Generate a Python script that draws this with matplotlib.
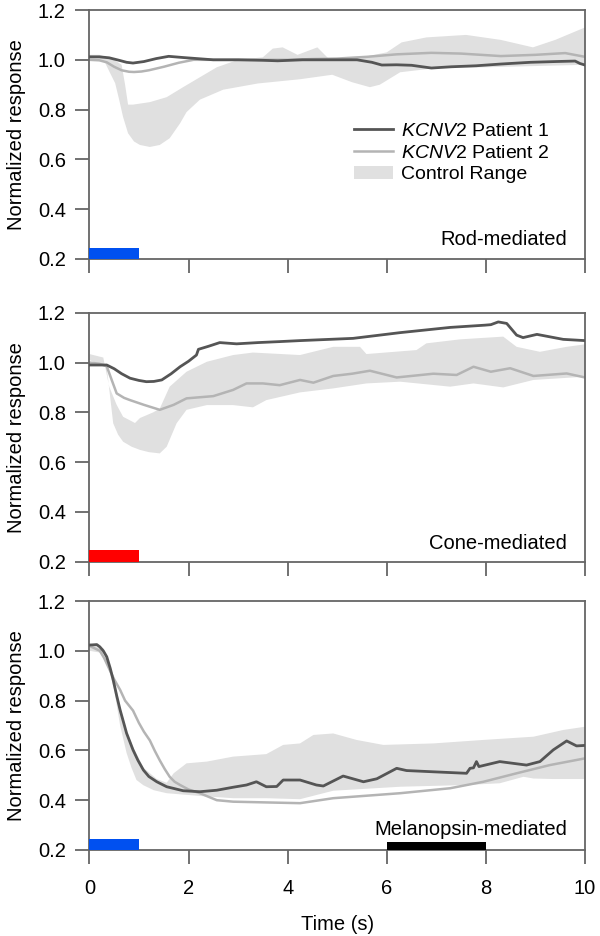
import numpy as np
import matplotlib
matplotlib.use('Agg')
import matplotlib.pyplot as plt
from matplotlib.lines import Line2D
from matplotlib.patches import Patch

plt.rcParams['font.family'] = ['Liberation Sans', 'DejaVu Sans']
plt.rcParams['mathtext.fontset'] = 'custom'
plt.rcParams['mathtext.it'] = 'Liberation Sans:italic'
plt.rcParams['mathtext.rm'] = 'Liberation Sans'

# ---- Rod-mediated ----
rod_p1_t = [0, 0.2, 0.4, 0.6, 0.75, 0.88, 1.1, 1.35, 1.6, 1.9, 2.1, 2.5, 3.0, 3.5, 3.8, 4.3,
            4.8, 5.4, 5.7, 5.9, 6.2, 6.5, 6.9, 7.3, 7.8, 8.3, 8.9, 9.4, 9.8, 9.9, 10]
rod_p1 = [1.012, 1.012, 1.008, 0.998, 0.99, 0.987, 0.993, 1.005, 1.014, 1.009, 1.006, 1.0, 1.0,
          0.998, 0.996, 1.0, 1.0, 1.0, 0.99, 0.979, 0.98, 0.978, 0.967, 0.972, 0.976, 0.983,
          0.99, 0.993, 0.995, 0.985, 0.979]
rod_p2_t = [0, 0.2, 0.35, 0.5, 0.65, 0.8, 0.9, 1.05, 1.2, 1.5, 1.8, 2.1, 3.0, 4.0, 4.5, 5.0,
            5.6, 6.2, 6.9, 7.5, 8.3, 9.0, 9.6, 10]
rod_p2 = [1.0, 0.998, 0.99, 0.972, 0.958, 0.952, 0.951, 0.953, 0.958, 0.972, 0.988, 1.0, 1.0,
          1.0, 1.003, 1.005, 1.012, 1.022, 1.028, 1.025, 1.015, 1.02, 1.027, 1.012]
rod_up_t = [0, 0.2, 0.35, 0.5, 0.65, 0.72, 0.78, 0.88, 1.22, 1.56, 1.89, 2.23, 2.57, 3.0, 3.5,
            3.7, 3.9, 4.2, 4.6, 4.85, 5.5, 6.0, 6.3, 6.8, 7.6, 8.3, 8.95, 9.4, 10]
rod_up = [1.02, 1.02, 1.01, 1.0, 0.98, 0.9, 0.82, 0.82, 0.83, 0.85, 0.89, 0.93, 0.97, 1.0, 1.01,
          1.045, 1.05, 1.02, 1.05, 1.0, 1.01, 1.03, 1.07, 1.09, 1.1, 1.08, 1.05, 1.08, 1.13]
rod_lo_t = [0, 0.3, 0.41, 0.52, 0.6, 0.68, 0.78, 0.9, 1.02, 1.22, 1.42, 1.62, 1.83, 1.96, 2.23,
            2.7, 3.4, 4.25, 4.9, 5.3, 5.66, 5.86, 6.27, 7.0, 8.0, 9.0, 10]
rod_lo = [1.0, 0.995, 0.95, 0.906, 0.84, 0.77, 0.705, 0.672, 0.658, 0.65, 0.658, 0.685, 0.745,
          0.79, 0.84, 0.88, 0.905, 0.922, 0.94, 0.91, 0.89, 0.9, 0.95, 0.967, 0.97, 0.975, 0.98]

# ---- Cone-mediated ----
cone_p1_t = [0, 0.2, 0.35, 0.5, 0.65, 0.82, 1.0, 1.15, 1.3, 1.46, 1.65, 1.83, 2.0, 2.16, 2.2,
             2.4, 2.63, 2.97, 3.4, 3.84, 4.25, 5.32, 6.27, 7.28, 7.98, 8.1, 8.25, 8.42, 8.62,
             8.75, 9.03, 9.56, 10]
cone_p1 = [0.99, 0.99, 0.99, 0.975, 0.955, 0.937, 0.928, 0.923, 0.924, 0.93, 0.955, 0.983,
           1.005, 1.03, 1.053, 1.065, 1.08, 1.075, 1.08, 1.084, 1.088, 1.097, 1.12, 1.141, 1.15,
           1.152, 1.163, 1.157, 1.11, 1.10, 1.113, 1.093, 1.088]
cone_p2_t = [0, 0.2, 0.35, 0.45, 0.55, 0.7, 0.82, 1.1, 1.42, 1.7, 1.96, 2.5, 2.9, 3.17, 3.5,
             3.84, 4.25, 4.52, 4.92, 5.3, 5.66, 6.2, 6.94, 7.41, 7.75, 8.1, 8.49, 8.96, 9.63, 10]
cone_p2 = [1.0, 0.995, 0.985, 0.93, 0.876, 0.858, 0.849, 0.83, 0.81, 0.83, 0.856, 0.865, 0.89,
           0.916, 0.916, 0.909, 0.93, 0.919, 0.946, 0.955, 0.967, 0.94, 0.955, 0.95, 0.983,
           0.963, 0.977, 0.946, 0.956, 0.94]
cone_up_t = [0, 0.28, 0.4, 0.55, 0.68, 0.92, 1.02, 1.29, 1.42, 1.62, 1.96, 2.37, 2.9, 3.3,
             4.25, 4.92, 5.46, 5.59, 6.6, 6.8, 7.48, 8.35, 8.62, 9.09, 9.63, 10]
cone_up = [1.034, 1.02, 0.903, 0.83, 0.782, 0.757, 0.777, 0.80, 0.815, 0.903, 0.963, 1.003,
           1.03, 1.04, 1.03, 1.063, 1.063, 1.034, 1.05, 1.077, 1.093, 1.104, 1.063, 1.043,
           1.063, 1.073]
cone_lo_t = [0, 0.35, 0.42, 0.48, 0.58, 0.68, 0.85, 1.02, 1.2, 1.42, 1.56, 1.76, 1.96, 2.37,
             2.9, 3.3, 3.57, 4.25, 4.92, 5.59, 6.27, 7.28, 7.75, 8.35, 8.96, 10]
cone_lo = [1.01, 0.98, 0.86, 0.756, 0.71, 0.682, 0.662, 0.649, 0.64, 0.635, 0.662, 0.756, 0.81,
           0.829, 0.829, 0.82, 0.849, 0.88, 0.896, 0.916, 0.923, 0.903, 0.916, 0.90, 0.93, 0.943]

# ---- Melanopsin-mediated ----
mel_p1_t = [0, 0.15, 0.21, 0.28, 0.35, 0.42, 0.48, 0.55, 0.62, 0.7, 0.75, 0.82, 0.88, 0.98,
            1.09, 1.2, 1.36, 1.56, 1.89, 2.23, 2.57, 2.9, 3.17, 3.37, 3.57, 3.78, 3.91, 4.25,
            4.58, 4.72, 5.12, 5.53, 5.8, 6.2, 6.4, 6.94, 7.61, 7.68, 7.75, 7.81, 7.86, 8.28,
            8.82, 9.09, 9.36, 9.63, 9.83, 10]
mel_p1 = [1.023, 1.025, 1.016, 1.0, 0.976, 0.93, 0.883, 0.82, 0.762, 0.705, 0.669, 0.633,
          0.602, 0.56, 0.521, 0.495, 0.474, 0.454, 0.438, 0.434, 0.44, 0.452, 0.461, 0.474,
          0.454, 0.455, 0.481, 0.481, 0.461, 0.457, 0.497, 0.474, 0.486, 0.528, 0.519, 0.514,
          0.508, 0.528, 0.53, 0.555, 0.535, 0.555, 0.541, 0.555, 0.602, 0.638, 0.618, 0.62]
mel_p2_t = [0, 0.21, 0.3, 0.41, 0.5, 0.62, 0.72, 0.88, 1.0, 1.1, 1.22, 1.32, 1.42, 1.52, 1.62,
            1.72, 1.83, 2.0, 2.23, 2.57, 2.9, 3.57, 4.25, 4.92, 6.27, 7.28, 7.95, 8.62, 9.29, 10]
mel_p2 = [1.02, 1.0, 0.97, 0.923, 0.885, 0.843, 0.80, 0.76, 0.71, 0.675, 0.64, 0.598, 0.56,
          0.525, 0.494, 0.474, 0.461, 0.443, 0.428, 0.40, 0.394, 0.391, 0.388, 0.408, 0.428,
          0.448, 0.474, 0.508, 0.541, 0.568]
mel_up_t = [0, 0.28, 0.5, 0.62, 0.75, 0.88, 1.09, 1.36, 1.56, 1.7, 1.96, 2.37, 2.9, 3.57, 3.91,
            4.25, 4.52, 4.92, 5.39, 5.93, 6.94, 7.95, 8.96, 9.56, 10]
mel_up = [1.03, 1.01, 0.89, 0.775, 0.68, 0.615, 0.53, 0.485, 0.47, 0.508, 0.548, 0.555, 0.575,
          0.585, 0.622, 0.628, 0.662, 0.668, 0.642, 0.622, 0.628, 0.642, 0.655, 0.682, 0.695]
mel_lo_t = [0, 0.3, 0.4, 0.5, 0.62, 0.75, 0.85, 0.95, 1.09, 1.3, 1.56, 2.23, 2.9, 3.57, 4.25,
            4.92, 6.27, 7.61, 8.28, 8.76, 8.96, 9.36, 10]
mel_lo = [1.0, 0.99, 0.92, 0.843, 0.7, 0.59, 0.53, 0.481, 0.46, 0.44, 0.428, 0.417, 0.408,
          0.408, 0.404, 0.438, 0.454, 0.461, 0.468, 0.494, 0.487, 0.485, 0.485]

panels = [
    ('Rod-mediated', rod_p1_t, rod_p1, rod_p2_t, rod_p2, rod_up_t, rod_up, rod_lo_t, rod_lo),
    ('Cone-mediated', cone_p1_t, cone_p1, cone_p2_t, cone_p2, cone_up_t, cone_up, cone_lo_t, cone_lo),
    ('Melanopsin-mediated', mel_p1_t, mel_p1, mel_p2_t, mel_p2, mel_up_t, mel_up, mel_lo_t, mel_lo),
]
# stimulus bars: (start, end, top, colour)
stimuli = [
    [(0, 1, 0.246, '#0050f0')],
    [(0, 1, 0.246, '#ff0000')],
    [(0, 1, 0.246, '#0050f0'), (6, 8, 0.232, '#000000')],
]

dark = '#555555'
light = '#b4b4b4'
band = '#e0e0e0'
spine_c = '#666666'
fs = 14.5

fig = plt.figure(figsize=(6, 9.36), dpi=100)
bottoms = [0.7233, 0.3999, 0.0919]
label_y = [0.08, 0.075, 0.084]

for i, (name, t1, v1, t2, v2, tu, vu, tl, vl) in enumerate(panels):
    ax = fig.add_axes([0.149, bottoms[i], 0.826, 0.266])
    ax.fill(np.r_[tu, tl[::-1]], np.r_[vu, vl[::-1]], color=band, lw=0, zorder=1)
    ax.plot(t2, v2, color=light, lw=1.8, zorder=2)
    ax.plot(t1, v1, color=dark, lw=2.0, zorder=3)
    for (s, e, top, c) in stimuli[i]:
        ax.bar(s, top - 0.2, width=e - s, bottom=0.2, align='edge', color=c, lw=0, zorder=4)
    ax.set_xlim(0, 10)
    ax.set_ylim(0.2, 1.2)
    ax.set_xticks(np.arange(0, 11, 2))
    ax.set_yticks([0.2, 0.4, 0.6, 0.8, 1.0, 1.2])
    ax.set_yticklabels(['0.2', '0.4', '0.6', '0.8', '1.0', '1.2'])
    for sp in ax.spines.values():
        sp.set_color(spine_c)
        sp.set_linewidth(1.3)
    ax.tick_params(axis='y', direction='out', length=10, width=1.3, color=spine_c,
                   labelsize=fs, pad=7)
    ax.tick_params(axis='x', direction='out', length=10, width=1.3, color=spine_c,
                   labelsize=fs, pad=11)
    ax.set_ylabel('Normalized response', fontsize=fs)
    ax.yaxis.set_label_coords(-0.128, 0.5)
    ax.text(0.964, label_y[i], name, transform=ax.transAxes, ha='right', va='center',
            fontsize=fs)
    if i < 2:
        ax.set_xticklabels([])
    else:
        ax.set_xlabel('Time (s)', fontsize=fs)
        ax.xaxis.set_label_coords(0.5, -0.262)
    if i == 0:
        handles = [Line2D([], [], color=dark, lw=2.0),
                   Line2D([], [], color=light, lw=1.8),
                   Patch(color=band, lw=0)]
        labels = [r'$\it{KCNV2}$ Patient 1', r'$\it{KCNV2}$ Patient 2', 'Control Range']
        ax.legend(handles, labels, loc='upper left', bbox_to_anchor=(0.534, 0.55),
                  frameon=False, fontsize=14, borderpad=0, borderaxespad=0,
                  handlelength=2.0, handletextpad=0.4, labelspacing=0.22)

fig.savefig('out.png', dpi=100, facecolor='white')
